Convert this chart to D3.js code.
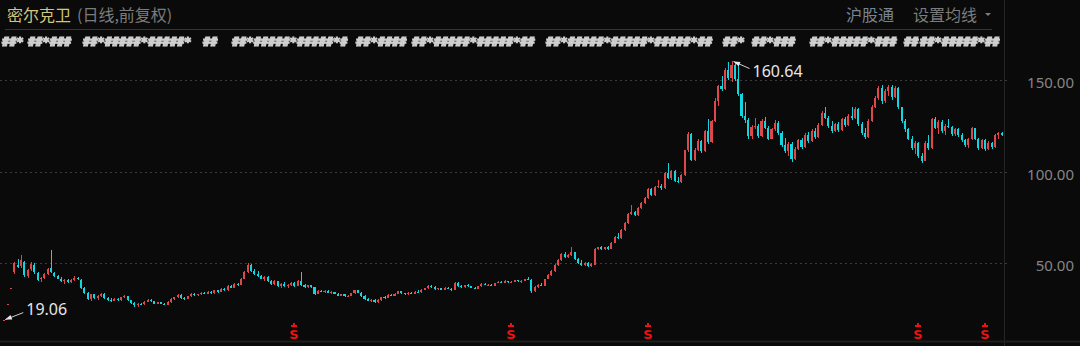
<!DOCTYPE html>
<meta charset="utf-8">
<script src="https://d3js.org/d3.v7.min.js"></script>
<style>
  body { margin: 0; background: #0a0a0a; }
  svg { display: block; }
</style>
<div id="chart"></div>
<script>
// daily candles, forward adjusted: [open, high, low, close]
var ohlc = [
  [19.06,19.06,19.06,19.06],[27.4,27.4,27.4,27.4],[36.5,36.5,36.5,36.5],[45.2,50.5,44.0,49.8],[49.0,52.0,47.0,48.0],
  [48.5,54.2,47.5,51.5],[50.5,51.0,42.5,43.2],[43.0,46.8,42.0,46.0],[46.5,50.8,45.5,49.5],[49.0,50.0,44.0,45.0],
  [44.5,45.0,40.0,40.8],[41.0,42.5,39.5,41.8],[42.0,44.5,41.0,44.0],[44.2,47.5,43.5,46.8],[47.0,57.0,44.5,45.0],
  [44.8,45.0,42.5,43.0],[43.0,43.5,41.0,41.5],[41.5,42.2,39.5,40.0],[40.0,41.5,38.5,40.8],[40.8,41.2,39.0,39.5],
  [39.5,41.0,38.8,40.6],[40.6,42.8,40.0,42.0],[42.0,42.5,40.5,41.0],[40.8,41.0,36.0,36.5],[36.5,37.0,33.0,33.5],
  [33.5,34.0,30.0,30.5],[30.5,33.2,29.5,32.8],[32.8,33.0,30.5,31.0],[31.0,32.5,30.0,32.0],[32.0,33.5,31.5,33.2],
  [33.2,33.5,30.5,31.0],[31.0,31.5,29.5,30.0],[30.0,30.8,28.8,29.5],[29.5,30.8,29.0,30.5],[30.5,31.0,29.2,29.8],
  [29.8,31.5,29.5,31.2],[31.2,32.5,30.8,32.0],[32.0,32.2,29.5,29.8],[29.8,30.0,27.5,28.0],[28.0,28.5,26.0,26.8],
  [26.8,28.0,26.2,27.6],[27.6,28.2,27.0,27.4],[27.4,29.2,27.2,28.8],[28.8,30.5,28.5,30.0],[30.0,30.2,28.8,29.0],
  [29.0,29.4,27.5,27.8],[27.8,28.8,27.5,28.5],[28.5,28.8,27.5,27.6],[27.6,28.0,26.8,27.2],[27.2,29.0,27.0,28.6],
  [28.6,31.0,28.4,30.6],[30.6,31.5,30.0,31.2],[31.2,32.8,31.0,32.5],[32.5,33.0,30.5,31.0],[31.0,31.5,30.0,30.5],
  [30.5,32.0,30.2,31.8],[31.8,33.5,31.5,33.0],[33.0,33.4,32.0,32.4],[32.4,33.0,31.8,32.8],[32.8,34.2,32.5,33.8],
  [33.8,34.0,32.8,33.2],[33.2,34.5,33.0,34.2],[34.2,34.5,33.0,33.4],[33.4,35.5,33.2,35.0],[35.0,35.2,33.8,34.2],
  [34.2,36.5,34.0,36.0],[36.0,36.2,34.5,35.0],[35.0,37.8,34.8,37.2],[37.2,38.0,36.2,36.5],[36.5,39.0,36.2,38.6],
  [38.6,39.2,37.5,38.0],[38.0,42.0,37.8,41.5],[41.5,45.5,41.0,45.0],[45.0,50.2,44.5,49.0],[49.0,49.5,45.0,45.5],
  [45.5,46.5,43.5,44.0],[44.0,45.5,42.5,43.0],[43.0,43.5,41.0,41.5],[41.5,43.0,40.0,42.5],[42.5,42.8,39.5,40.0],
  [40.0,40.5,38.0,38.5],[38.5,40.5,38.0,40.0],[40.0,40.2,37.0,37.5],[37.5,38.8,36.5,38.5],[38.5,39.5,37.0,37.2],
  [37.2,38.5,36.5,38.0],[38.0,39.8,37.5,39.2],[39.2,39.5,37.0,37.5],[37.5,40.5,37.2,40.0],[40.0,45.0,37.5,38.0],
  [38.0,38.5,36.5,37.0],[37.0,38.2,36.5,37.8],[37.8,38.0,36.5,36.8],[36.8,37.0,32.5,33.0],[33.0,35.0,32.8,34.6],
  [34.6,35.2,34.0,34.2],[34.2,35.0,33.5,34.8],[34.8,35.0,33.6,33.8],[33.8,34.5,33.2,34.0],[34.0,34.2,33.0,33.2],
  [33.2,33.5,32.0,32.2],[32.2,33.0,31.8,32.8],[32.8,33.0,31.5,31.8],[31.8,32.5,31.2,32.2],[32.2,33.8,32.0,33.5],
  [33.5,35.5,33.2,35.0],[35.0,35.2,33.5,33.8],[33.8,34.0,31.5,32.0],[32.0,32.5,30.0,30.2],[30.2,30.8,29.0,29.4],
  [29.4,30.5,28.5,30.0],[30.0,30.2,28.2,28.6],[28.6,30.2,28.4,29.8],[29.8,31.5,29.5,31.2],[31.2,32.0,30.5,31.0],
  [31.0,32.8,30.8,32.5],[32.5,33.0,31.8,32.2],[32.2,33.5,32.0,33.2],[33.2,34.8,33.0,34.5],[34.5,34.8,33.2,33.5],
  [33.5,33.8,32.5,32.8],[32.8,34.0,32.5,33.8],[33.8,34.2,33.0,33.2],[33.2,34.5,33.0,34.2],[34.2,35.0,33.8,34.0],
  [34.0,35.8,33.8,35.5],[35.5,36.5,35.0,36.2],[36.2,38.0,36.0,37.6],[37.6,37.8,36.5,36.8],[36.8,37.2,35.5,35.8],
  [35.8,36.5,35.0,36.2],[36.2,36.5,35.0,35.4],[35.4,36.8,35.2,36.5],[36.5,37.0,35.8,36.0],[36.0,36.5,34.8,35.2],
  [35.2,39.8,35.0,39.2],[39.2,39.5,37.0,37.5],[37.5,38.0,36.5,36.8],[36.8,38.2,36.5,38.0],[38.0,38.5,37.0,37.2],
  [37.2,37.5,36.2,36.5],[36.5,37.0,35.8,36.0],[36.0,37.5,35.8,37.2],[37.2,38.8,37.0,38.5],[38.5,38.8,37.8,38.0],
  [38.0,38.5,37.5,38.2],[38.2,38.4,37.2,37.4],[37.4,39.2,37.2,39.0],[39.0,40.2,38.8,39.8],[39.8,40.0,39.0,39.2],
  [39.2,40.5,39.0,40.2],[40.2,40.4,39.2,39.5],[39.5,40.0,39.0,39.8],[39.8,40.8,39.5,40.5],[40.5,40.8,39.8,40.0],
  [40.0,40.5,39.2,40.2],[40.2,41.5,40.0,41.2],[41.2,42.5,40.5,40.8],[40.8,41.0,33.5,34.5],[34.5,37.5,34.2,37.0],
  [37.0,38.5,36.5,38.2],[38.2,39.0,37.2,37.5],[37.5,41.5,37.2,41.2],[41.2,43.8,41.0,43.5],[43.5,46.0,43.0,45.5],
  [45.5,49.5,45.0,49.0],[49.0,52.0,48.5,51.5],[51.5,55.5,51.0,55.0],[55.0,56.0,53.0,53.5],[53.5,55.0,53.0,54.5],
  [54.5,58.5,54.0,56.0],[56.0,56.2,51.5,52.0],[52.0,52.5,49.5,50.0],[50.0,51.5,48.2,48.8],[48.8,50.5,48.5,50.2],
  [50.2,50.5,48.0,48.5],[48.5,50.0,48.0,49.5],[49.0,58.0,48.8,57.5],[57.5,59.0,57.0,58.5],[58.5,59.5,57.0,57.5],
  [57.5,59.0,57.0,58.8],[58.8,59.2,57.2,57.6],[57.6,61.5,57.5,61.0],[61.0,64.5,60.8,64.0],[64.0,66.5,63.0,63.5],
  [63.5,68.5,63.2,68.0],[68.0,72.5,67.5,72.0],[72.0,77.5,71.5,77.0],[77.0,81.5,76.5,78.0],[78.0,78.5,75.5,76.0],
  [76.0,80.5,75.8,80.0],[80.0,83.5,79.5,83.0],[83.0,86.0,82.0,85.5],[85.5,91.0,85.0,90.5],[90.5,91.0,86.5,87.0],
  [87.0,92.0,86.5,91.5],[91.5,95.5,91.0,92.0],[92.0,93.0,90.0,91.0],[91.0,100.0,90.5,99.0],[99.0,104.5,96.0,96.5],
  [96.5,101.0,95.5,100.5],[100.5,101.0,94.5,95.0],[95.0,97.0,93.5,94.0],[94.0,98.5,93.5,98.0],[98.0,112.0,97.5,111.5],
  [111.5,121.5,110.5,120.5],[120.5,121.0,105.5,106.5],[106.5,113.0,106.0,112.0],[112.0,118.0,111.0,116.5],[116.5,117.0,110.0,111.0],
  [111.0,122.5,110.5,122.0],[122.0,128.5,115.0,116.0],[116.0,128.0,115.5,127.5],[127.5,140.0,127.0,138.5],[138.5,147.5,136.0,146.5],
  [146.5,152.0,144.0,145.0],[145.0,156.5,144.5,155.5],[155.5,160.0,150.0,151.0],[151.0,160.64,149.0,158.0],[158.0,159.5,149.5,150.5],
  [150.5,158.0,141.5,142.5],[142.5,143.0,129.5,130.5],[130.5,138.0,126.5,128.0],[128.0,129.0,118.0,119.5],[119.5,125.5,118.0,124.5],
  [124.5,129.0,123.0,125.0],[125.0,126.0,118.5,119.5],[119.5,128.5,119.0,127.5],[127.5,130.0,123.0,124.0],[124.0,125.0,117.0,118.0],
  [118.0,124.0,117.5,123.0],[123.0,128.0,122.0,126.5],[126.5,127.5,120.0,121.0],[121.0,122.0,113.5,114.5],[114.5,118.5,110.0,111.0],
  [111.0,116.0,108.5,115.0],[115.0,116.0,105.0,107.0],[107.0,113.5,106.5,112.5],[112.5,118.0,112.0,117.0],[117.0,118.5,112.5,113.5],
  [113.5,121.0,113.0,120.0],[120.0,121.5,115.5,116.5],[116.5,123.0,116.0,122.0],[122.0,123.5,118.0,119.0],[119.0,126.5,118.5,125.5],
  [125.5,133.0,125.0,132.0],[132.0,135.5,128.5,129.5],[129.5,130.5,124.0,125.0],[125.0,127.5,121.0,122.0],[122.0,126.5,121.5,126.0],
  [126.0,127.0,121.5,122.5],[122.5,129.5,122.0,128.5],[128.5,130.0,124.5,125.5],[125.5,131.5,125.0,130.5],[130.5,135.5,128.0,129.0],
  [129.0,135.0,128.5,134.0],[134.0,134.5,125.0,126.0],[126.0,127.0,120.0,121.0],[121.0,124.0,118.0,119.0],[119.0,128.5,118.5,127.5],
  [127.5,136.5,127.0,135.5],[135.5,141.0,134.5,140.0],[140.0,146.5,139.0,145.5],[145.5,147.5,137.0,138.5],[138.5,145.0,137.5,144.0],
  [144.0,147.0,141.0,146.0],[146.0,147.5,139.0,140.5],[140.5,146.5,140.0,145.5],[145.5,146.0,134.0,135.0],[135.0,135.5,126.5,127.5],
  [127.5,128.5,121.5,123.0],[123.0,124.0,117.0,118.0],[118.0,119.5,112.0,113.0],[113.0,116.5,109.5,115.5],[115.5,116.0,107.5,108.5],
  [108.5,110.0,104.7,106.0],[106.0,116.5,105.5,115.5],[115.5,120.0,112.0,113.0],[113.0,129.5,112.5,128.5],[128.5,130.0,123.0,124.0],
  [124.0,128.0,120.5,127.0],[127.0,128.0,121.0,122.0],[122.0,126.0,120.0,125.0],[125.0,128.5,123.5,124.5],[124.5,125.0,119.5,120.5],
  [120.5,124.0,119.5,123.0],[123.0,124.0,119.0,120.0],[120.0,121.0,116.0,117.0],[117.0,118.0,113.5,114.5],[114.5,118.5,113.0,117.5],
  [117.5,124.5,117.0,123.5],[123.5,124.0,117.0,118.0],[118.0,118.5,112.0,113.0],[113.0,118.0,112.5,117.0],[117.0,117.5,111.0,112.5],
  [112.5,116.5,112.0,115.5],[115.5,116.0,112.5,113.5],[113.5,120.5,113.0,120.0],[120.0,121.5,117.5,121.0],[121.0,121.5,119.5,120.0]
];
var yTicks = [50, 100, 150];
var tickLabels = ["50.00", "100.00", "150.00"];
var signalDays = [87, 152, 193, 274, 294];   // red "S" markers under the candles
var titleName = "密尔克卫";
var titleSub = "(日线,前复权)";

var width = 1080, height = 346;

var svg = d3.select("#chart").append("svg")
  .attr("width", width)
  .attr("height", height)
  .style("background", "#0a0a0a");

var defs = svg.append("defs");
defs.append("filter").attr("id", "blur")
  .append("feGaussianBlur").attr("stdDeviation", 0.6);

var x = d3.scaleBand()
  .domain(d3.range(ohlc.length))
  .range([2, 1004])
  .padding(0.35);

var y = d3.scaleLinear()
  .domain([50, 150])
  .range([263, 80]);

// header
svg.append("text")
  .attr("x", 7).attr("y", 21)
  .attr("font-family", "Noto Sans CJK SC")
  .attr("font-size", 16)
  .attr("fill", "#d3c57f")
  .text(titleName);
svg.append("text")
  .attr("x", 77).attr("y", 21)
  .attr("font-family", "Noto Sans CJK SC")
  .attr("font-size", 16)
  .attr("fill", "#7c7c7c")
  .text(titleSub);
svg.append("text")
  .attr("x", 846).attr("y", 21)
  .attr("font-family", "Noto Sans CJK SC")
  .attr("font-size", 16)
  .attr("fill", "#768594")
  .text("沪股通");
svg.append("text")
  .attr("x", 913).attr("y", 21)
  .attr("font-family", "Noto Sans CJK SC")
  .attr("font-size", 16)
  .attr("fill", "#7c7c7c")
  .text("设置均线");
svg.append("path")
  .attr("d", "M985,13 L991,13 L988,16 Z")
  .attr("fill", "#7c7c7c");

svg.append("line")
  .attr("x1", 5).attr("x2", 992).attr("y1", 29.5).attr("y2", 29.5)
  .attr("stroke", "#353535");

// masked indicator row: one text per segment, sized to fit its gap
var maskSegs = [[2,24],[28,78],[83,193],[203,222],[232,352],[356,408],[412,540],[546,718],[723,745],[752,800],[810,898],[904,918],[920,1003]];
svg.append("g").attr("filter", "url(#blur)")
  .selectAll("text")
  .data(maskSegs)
  .enter().append("text")
  .attr("x", function(d) { return d[0]; })
  .attr("y", 45.5)
  .attr("font-family", "DejaVu Sans Mono")
  .attr("font-weight", "bold")
  .attr("font-size", 12)
  .attr("fill", "#d6d6d6")
  .attr("stroke", "#cfcfcf")
  .attr("stroke-width", 1.1)
  .text(function(d) {
    var n = Math.max(2, Math.floor((d[1] - d[0]) / 7.3));
    var s = "";
    for (var i = 0; i < n; i++) s += (i % 6 == 2) ? "*" : "#";
    return s;
  });

// frame lines
svg.append("line")
  .attr("x1", 1004.5).attr("x2", 1004.5).attr("y1", 0).attr("y2", height)
  .attr("stroke", "#262626");
svg.append("line")
  .attr("x1", 0).attr("x2", width).attr("y1", 341.5).attr("y2", 341.5)
  .attr("stroke", "#1f1f1f").attr("stroke-width", 2);

// grid + right axis labels
svg.append("g").selectAll("line")
  .data(yTicks).enter().append("line")
  .attr("x1", 0).attr("x2", 1008)
  .attr("y1", function(d) { return Math.round(y(d)) + 0.5; })
  .attr("y2", function(d) { return Math.round(y(d)) + 0.5; })
  .attr("stroke", "#3a3a3a")
  .attr("stroke-dasharray", "2,3");

svg.append("g").selectAll("text")
  .data(yTicks).enter().append("text")
  .attr("x", 1074)
  .attr("y", function(d) { return y(d) + 8; })
  .attr("text-anchor", "end")
  .attr("font-family", "Noto Sans")
  .attr("font-size", 15)
  .attr("fill", "#858585")
  .text(function(d, i) { return tickLabels[i]; });

// candles
var up = "#e0474b", down = "#12d6df";
var candles = svg.append("g")
  .attr("shape-rendering", "crispEdges")
  .selectAll("g")
  .data(ohlc).enter().append("g");

candles.append("line")
  .attr("x1", function(d, i) { return Math.round(x(i) + x.bandwidth() / 2) + 0.5; })
  .attr("x2", function(d, i) { return Math.round(x(i) + x.bandwidth() / 2) + 0.5; })
  .attr("y1", function(d) { return y(d[1]); })
  .attr("y2", function(d) { return y(d[2]); })
  .attr("stroke", function(d) { return d[3] >= d[0] ? up : down; });

candles.append("rect")
  .attr("x", function(d, i) { return Math.round(x(i)); })
  .attr("width", Math.max(1, Math.round(x.bandwidth())))
  .attr("y", function(d) { return y(Math.max(d[0], d[3])); })
  .attr("height", function(d) { return Math.max(1, Math.abs(y(d[0]) - y(d[3]))); })
  .attr("fill", function(d) { return d[3] >= d[0] ? up : down; });

// high / low annotations
var hiIdx = d3.maxIndex(ohlc, function(d) { return d[1]; });
var loIdx = d3.minIndex(ohlc, function(d) { return d[2]; });
var hx = x(hiIdx) + x.bandwidth() / 2, hy = y(ohlc[hiIdx][1]);
var lx = x(loIdx) + x.bandwidth() / 2, ly = y(ohlc[loIdx][2]);

function arrow(x1, y1, x2, y2) {
  var a = Math.atan2(y2 - y1, x2 - x1), L = 7;
  svg.append("line")
    .attr("x1", x1).attr("y1", y1).attr("x2", x2).attr("y2", y2)
    .attr("stroke", "#cfcfcf").attr("stroke-width", 1);
  svg.append("path")
    .attr("d", "M" + x2 + "," + y2 +
      "L" + (x2 - L * Math.cos(a - 0.35)) + "," + (y2 - L * Math.sin(a - 0.35)) +
      "L" + (x2 - L * Math.cos(a + 0.35)) + "," + (y2 - L * Math.sin(a + 0.35)) + "Z")
    .attr("fill", "#e8e8e8");
}
arrow(hx + 18, hy + 8, hx + 2, hy + 1);
svg.append("text")
  .attr("x", hx + 21).attr("y", hy + 16)
  .attr("font-family", "Noto Sans")
  .attr("font-size", 16)
  .attr("fill", "#e6e6e6")
  .text(d3.format(".2f")(ohlc[hiIdx][1]));

arrow(lx + 19, ly - 7, lx + 1, ly);
svg.append("text")
  .attr("x", lx + 22).attr("y", ly - 5)
  .attr("font-family", "Noto Sans")
  .attr("font-size", 16)
  .attr("fill", "#e6e6e6")
  .text(d3.format(".2f")(ohlc[loIdx][2]));

// S markers
var marks = svg.append("g").selectAll("g")
  .data(signalDays).enter().append("g")
  .attr("transform", function(i) { return "translate(" + Math.round(x(i) + x.bandwidth() / 2) + ",0)"; });
marks.append("rect")
  .attr("x", -3).attr("y", 325).attr("width", 6).attr("height", 2)
  .attr("fill", "#ee1111");
marks.append("rect")
  .attr("x", -1).attr("y", 323).attr("width", 2).attr("height", 2)
  .attr("fill", "#ee1111");
marks.append("text")
  .attr("y", 339)
  .attr("text-anchor", "middle")
  .attr("font-family", "DejaVu Sans")
  .attr("font-weight", "bold")
  .attr("font-size", 13)
  .attr("fill", "#ee1111")
  .text("S");
</script>
